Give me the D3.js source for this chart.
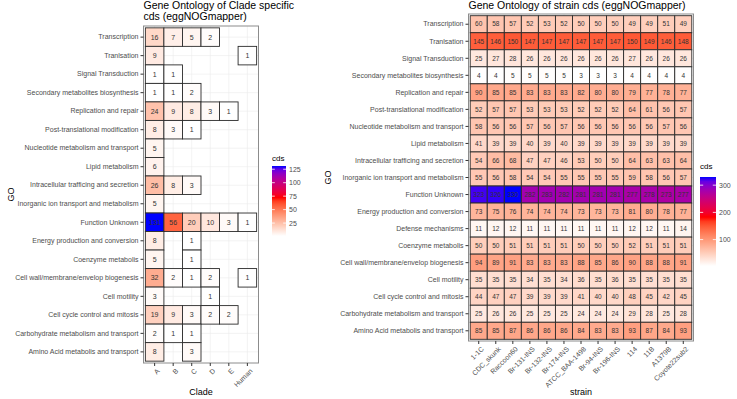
<!DOCTYPE html>
<html>
<head>
<meta charset="utf-8">
<script src="https://cdn.jsdelivr.net/npm/d3@7"></script>
<style>
  body { margin: 0; background: #fff; }
  svg, svg text { font-family: "Liberation Sans", Arial, sans-serif; }
</style>
</head>
<body>
<div id="chart"></div>
<script>
// ---- data ----
const cladeGO = ["Transcription", "Tranlsation", "Signal Transduction", "Secondary metabolites biosynthesis",
  "Replication and repair", "Post-translational modification", "Nucleotide metabolism and transport",
  "Lipid metabolism", "Intracellular trafficing and secretion", "Inorganic ion transport and metabolism",
  "Function Unknown", "Energy production and conversion", "Coenzyme metabolis",
  "Cell wall/membrane/envelop biogenesis", "Cell motility", "Cell cycle control and mitosis",
  "Carbohydrate metabolism and transport", "Amino Acid metabolis and transport"];
const clades = ["A", "B", "C", "D", "E", "Human"];
// one row per GO term, one value per clade (null = no cds)
const cladeCounts = [
  [16, 7, 5, 2, null, null],
  [9, null, null, null, null, 1],
  [1, 1, null, null, null, null],
  [1, 1, 2, null, null, null],
  [24, 9, 8, 3, 1, null],
  [8, 3, 1, null, null, null],
  [5, null, null, null, null, null],
  [6, null, null, null, null, null],
  [26, 8, 3, null, null, null],
  [5, null, null, null, null, null],
  [131, 56, 20, 10, 3, 1],
  [8, null, 1, null, null, null],
  [5, null, 1, null, null, null],
  [32, 2, 1, 2, null, 1],
  [3, null, null, 1, null, null],
  [19, 9, 3, 2, 2, null],
  [2, 1, 1, null, null, null],
  [8, null, 3, null, null, null]
];
const cladeLegendTicks = [25, 50, 75, 100, 125];

const strainGO = ["Transcription", "Tranlsation", "Signal Transduction", "Secondary metabolites biosynthesis",
  "Replication and repair", "Post-translational modification", "Nucleotide metabolism and transport",
  "Lipid metabolism", "Intracellular trafficing and secretion", "Inorganic ion transport and metabolism",
  "Function Unknown", "Energy production and conversion", "Defense mechanisms", "Coenzyme metabolis",
  "Cell wall/membrane/envelop biogenesis", "Cell motility", "Cell cycle control and mitosis",
  "Carbohydrate metabolism and transport", "Amino Acid metabolis and transport"];
const strains = ["1-1C", "CDC_skunk", "Raccoon60", "Br-131-INS", "Br-132-INS", "Br-174-INS",
  "ATCC_BAA-1498", "Br-94-INS", "Br-196-INS", "114", "11B", "A1379B", "Coyote22sub2"];
const strainCounts = [
  [60, 58, 57, 52, 53, 52, 50, 50, 50, 49, 49, 51, 49],
  [145, 146, 150, 147, 147, 147, 147, 147, 147, 150, 149, 146, 148],
  [25, 27, 28, 26, 26, 26, 26, 26, 26, 27, 26, 26, 26],
  [4, 4, 5, 5, 5, 5, 3, 3, 3, 4, 4, 4, 4],
  [90, 85, 85, 83, 83, 83, 82, 80, 80, 79, 77, 78, 77],
  [52, 57, 57, 53, 53, 53, 52, 52, 52, 64, 61, 56, 57],
  [58, 56, 56, 57, 56, 57, 56, 56, 56, 56, 56, 57, 56],
  [41, 39, 39, 40, 39, 40, 39, 39, 39, 39, 39, 39, 39],
  [54, 66, 68, 47, 47, 46, 53, 50, 50, 64, 63, 63, 64],
  [55, 56, 58, 54, 54, 55, 55, 55, 55, 59, 58, 56, 57],
  [323, 326, 330, 282, 283, 282, 281, 281, 281, 277, 278, 273, 277],
  [73, 75, 76, 74, 74, 74, 73, 73, 73, 81, 80, 78, 77],
  [11, 12, 12, 11, 11, 11, 11, 11, 11, 12, 12, 11, 14],
  [50, 50, 51, 51, 51, 51, 50, 50, 50, 52, 51, 51, 51],
  [94, 89, 91, 83, 83, 83, 88, 85, 86, 90, 88, 88, 91],
  [35, 35, 35, 34, 35, 34, 36, 35, 36, 35, 35, 35, 35],
  [44, 47, 47, 39, 39, 39, 41, 40, 40, 48, 45, 42, 45],
  [25, 26, 26, 25, 25, 25, 24, 24, 24, 29, 28, 25, 28],
  [85, 85, 87, 86, 86, 86, 84, 83, 83, 93, 87, 84, 93]
];
const strainLegendTicks = [100, 200, 300];

const FONT = '"Liberation Sans", Arial, sans-serif';

const svg = d3.select("#chart").append("svg")
  .attr("width", 737)
  .attr("height", 399);

const defs = svg.append("defs");

function heatmap(opt) {
  const cells = [];
  opt.counts.forEach((row, i) => row.forEach((v, j) => {
    if (v != null) cells.push({ go: opt.rows[i], col: opt.cols[j], v: v });
  }));
  const vals = cells.map(d => d.v);
  const lo = d3.min(vals), hi = d3.max(vals);
  // white -> red -> blue, interpolated in Lab like ggplot
  const color = d3.scaleLinear()
    .domain([lo, lo + (hi - lo) * 0.55, hi])
    .range(["#ffffff", "#ff0000", "#0000ff"])
    .interpolate(d3.interpolateLab);

  const x = d3.scaleBand().domain(opt.cols).range([opt.left, opt.right]).paddingOuter(0.1).paddingInner(0);
  const y = d3.scaleBand().domain(opt.rows).range([opt.top, opt.bottom]).paddingOuter(0.1).paddingInner(0);

  const g = svg.append("g");

  // panel + grid
  g.append("rect")
    .attr("x", opt.left).attr("y", opt.top)
    .attr("width", opt.right - opt.left).attr("height", opt.bottom - opt.top)
    .attr("fill", "#fff");
  opt.cols.forEach(c => {
    g.append("line")
      .attr("x1", x(c) + x.bandwidth() / 2).attr("x2", x(c) + x.bandwidth() / 2)
      .attr("y1", opt.top).attr("y2", opt.bottom)
      .attr("stroke", "#ebebeb").attr("stroke-width", 0.6);
  });
  opt.rows.forEach(r => {
    g.append("line")
      .attr("x1", opt.left).attr("x2", opt.right)
      .attr("y1", y(r) + y.bandwidth() / 2).attr("y2", y(r) + y.bandwidth() / 2)
      .attr("stroke", "#ebebeb").attr("stroke-width", 0.6);
  });

  // tiles
  g.selectAll("rect.tile").data(cells).join("rect")
    .attr("class", "tile")
    .attr("x", d => x(d.col))
    .attr("y", d => y(d.go))
    .attr("width", x.bandwidth())
    .attr("height", y.bandwidth())
    .attr("fill", d => color(d.v))
    .attr("stroke", "#2b2b2b")
    .attr("stroke-width", 0.9);

  g.selectAll("text.val").data(cells).join("text")
    .attr("class", "val")
    .attr("x", d => x(d.col) + x.bandwidth() / 2)
    .attr("y", d => y(d.go) + y.bandwidth() / 2)
    .attr("dy", "0.35em")
    .attr("text-anchor", "middle")
    .attr("font-size", opt.valSize + "px")
    .attr("fill", "#333")
    .text(d => d.v);

  g.append("rect")
    .attr("x", opt.left).attr("y", opt.top)
    .attr("width", opt.right - opt.left).attr("height", opt.bottom - opt.top)
    .attr("fill", "none")
    .attr("stroke", "#8c8c8c").attr("stroke-width", 1);

  // axes
  const ya = g.append("g")
    .attr("transform", `translate(${opt.left},0)`)
    .call(d3.axisLeft(y).tickSize(3).tickPadding(2))
    .attr("font-family", FONT);
  ya.select(".domain").remove();
  ya.selectAll("line").attr("stroke", "#333");
  ya.selectAll("text").attr("font-size", "7px").attr("fill", "#4d4d4d");

  const xa = g.append("g")
    .attr("transform", `translate(0,${opt.bottom})`)
    .call(d3.axisBottom(x).tickSize(3))
    .attr("font-family", FONT);
  xa.select(".domain").remove();
  xa.selectAll("line").attr("stroke", "#333");
  xa.selectAll("text")
    .attr("font-size", "7px").attr("fill", "#4d4d4d")
    .attr("x", 0).attr("y", 0).attr("dy", "0.71em")
    .attr("text-anchor", "end")
    .attr("transform", "translate(2,5) rotate(-45)");

  // titles
  opt.title.forEach((t, i) => {
    svg.append("text")
      .attr("x", opt.left).attr("y", opt.titleY + i * 10.5)
      .attr("font-size", "10.5px").attr("fill", "#000")
      .text(t);
  });
  svg.append("text")
    .attr("x", (opt.left + opt.right) / 2).attr("y", opt.xTitleY)
    .attr("text-anchor", "middle").attr("font-size", "9px")
    .text(opt.xTitle);
  svg.append("text")
    .attr("transform", `translate(${opt.yTitleX},${(opt.top + opt.bottom) / 2}) rotate(-90)`)
    .attr("text-anchor", "middle").attr("font-size", "9px")
    .text("GO");

  // legend
  const lg = opt.legend;
  const ly = d3.scaleLinear().domain([lo, hi]).range([lg.y1, lg.y0]);
  const gid = "grad" + opt.id;
  const grad = defs.append("linearGradient").attr("id", gid)
    .attr("x1", 0).attr("x2", 0).attr("y1", 1).attr("y2", 0);
  d3.range(0, 1.0001, 0.05).forEach(t => {
    grad.append("stop").attr("offset", t).attr("stop-color", color(lo + t * (hi - lo)));
  });
  svg.append("text")
    .attr("x", lg.x).attr("y", lg.y0 - lg.titleGap)
    .attr("font-size", "8px").attr("fill", "#000")
    .text("cds");
  svg.append("rect")
    .attr("x", lg.x).attr("y", lg.y0)
    .attr("width", lg.w).attr("height", lg.y1 - lg.y0)
    .attr("fill", `url(#${gid})`);
  opt.ticks.forEach(t => {
    [[lg.x, lg.x + lg.w / 5], [lg.x + lg.w * 4 / 5, lg.x + lg.w]].forEach(([a, b]) => {
      svg.append("line")
        .attr("x1", a).attr("x2", b).attr("y1", ly(t)).attr("y2", ly(t))
        .attr("stroke", "#fff").attr("stroke-width", 0.8);
    });
    svg.append("text")
      .attr("x", lg.x + lg.w + 3).attr("y", ly(t)).attr("dy", "0.35em")
      .attr("font-size", "7px").attr("fill", "#4d4d4d")
      .text(t);
  });
}

heatmap({
  id: "clade",
  rows: cladeGO, cols: clades, counts: cladeCounts, ticks: cladeLegendTicks,
  left: 143.5, right: 258.5, top: 26, bottom: 363,
  valSize: 7,
  title: ["Gene Ontology of Clade specific", "cds (eggNOGmapper)"], titleY: 9,
  xTitle: "Clade", xTitleY: 395, yTitleX: 14,
  legend: { x: 272, w: 14, y0: 166, y1: 236, titleGap: 5 }
});

heatmap({
  id: "strain",
  rows: strainGO, cols: strains, counts: strainCounts, ticks: strainLegendTicks,
  left: 468.5, right: 693.5, top: 14, bottom: 341,
  valSize: 6.5,
  title: ["Gene Ontology of strain cds (eggNOGmapper)"], titleY: 9,
  xTitle: "strain", xTitleY: 395, yTitleX: 331,
  legend: { x: 700, w: 16, y0: 177, y1: 266, titleGap: 8 }
});
</script>
</body>
</html>
